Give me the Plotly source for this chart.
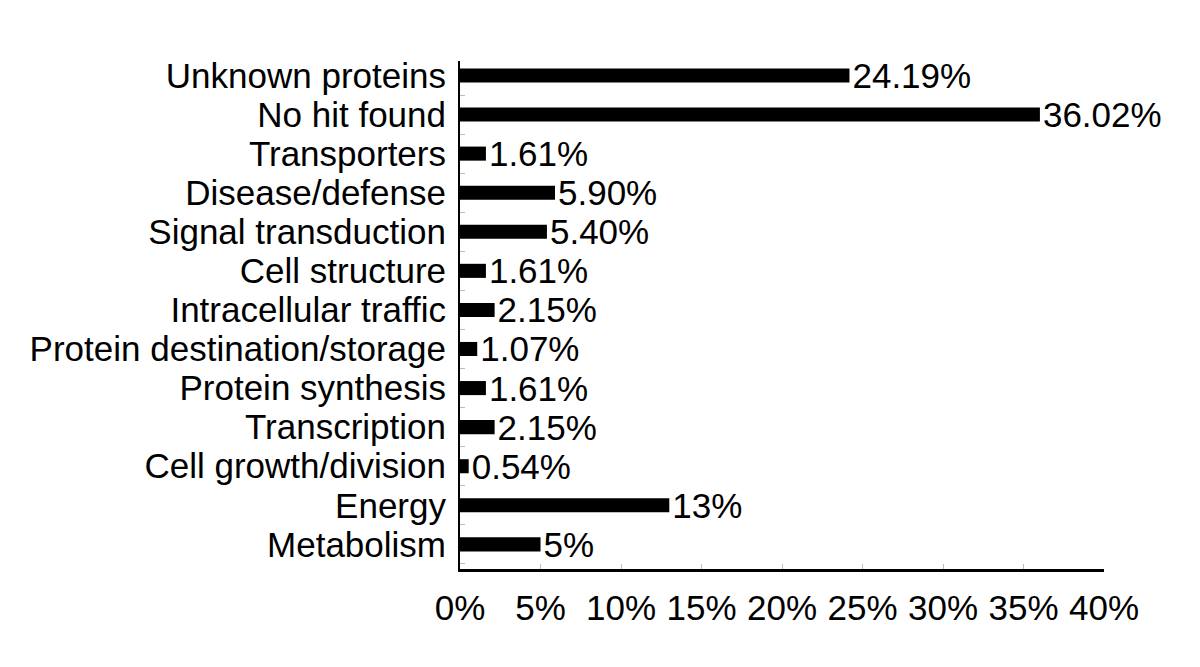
import plotly.graph_objects as go

categories = ["Metabolism", "Energy", "Cell growth/division", "Transcription",
              "Protein synthesis", "Protein destination/storage", "Intracellular traffic",
              "Cell structure", "Signal transduction", "Disease/defense", "Transporters",
              "No hit found", "Unknown proteins"]
values = [5, 13, 0.54, 2.15, 1.61, 1.07, 2.15, 1.61, 5.40, 5.90, 1.61, 36.02, 24.19]
labels = ["5%", "13%", "0.54%", "2.15%", "1.61%", "1.07%", "2.15%", "1.61%",
          "5.40%", "5.90%", "1.61%", "36.02%", "24.19%"]
xticks = [0, 5, 10, 15, 20, 25, 30, 35, 40]
xticklabels = ["0%", "5%", "10%", "15%", "20%", "25%", "30%", "35%", "40%"]

FONT = "Liberation Sans, Arial, sans-serif"
FS = 35

fig = go.Figure(go.Bar(
    y=categories, x=values, orientation="h",
    marker=dict(color="black", line=dict(width=0)),
    text=labels, textposition="outside", cliponaxis=False,
    constraintext="none",
    textfont=dict(family=FONT, size=FS, color="black"),
))

fig.update_layout(
    width=1200, height=667,
    margin=dict(l=452, r=104, t=53, b=106),
    paper_bgcolor="white", plot_bgcolor="white",
    bargap=0.64,
    showlegend=False,
    font=dict(family=FONT, size=FS, color="black"),
)
fig.update_xaxes(
    range=[0, 40], tickmode="array", tickvals=xticks, ticktext=xticklabels,
    showgrid=False, zeroline=False, automargin=False,
    showline=True, linecolor="black", linewidth=3,
    ticks="inside", ticklen=5, tickcolor="#bbbbbb", tickwidth=1,
    tickfont=dict(family=FONT, size=FS, color="black"),
    ticklabelstandoff=6,
)
fig.update_yaxes(
    type="category", categoryorder="array", categoryarray=categories,
    tickmode="array", tickvals=categories, ticktext=categories,
    range=[-0.63, 12.37],
    showgrid=False, zeroline=False, automargin=False,
    showline=True, linecolor="black", linewidth=2,
    ticks="inside", ticklen=5, tickcolor="#bbbbbb", tickwidth=1,
    tickson="boundaries",
    tickfont=dict(family=FONT, size=FS, color="black"),
    ticklabelstandoff=5,
)

fig.write_html("out.html")
